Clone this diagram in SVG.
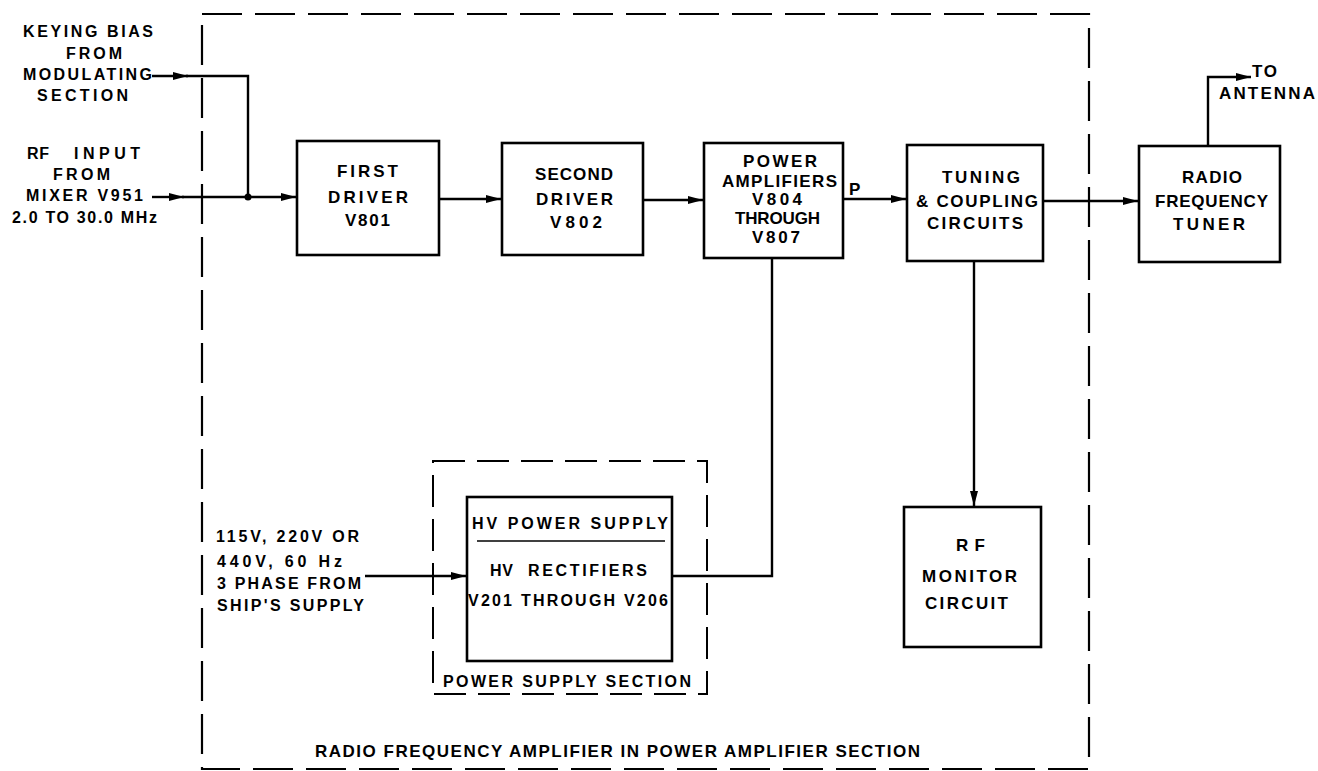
<svg xmlns="http://www.w3.org/2000/svg" width="1318" height="771" viewBox="0 0 1318 771">
<style>
text{font-family:"Liberation Sans",Arial,sans-serif;font-weight:bold;font-size:17px;fill:#000}
.s{font-size:16px}
.box{fill:none;stroke:#000;stroke-width:2.6}
.ln{fill:none;stroke:#000;stroke-width:2.4}
.dash{fill:none;stroke:#000;stroke-width:2.2;stroke-dasharray:40 13}
.dash2{fill:none;stroke:#000;stroke-width:2;stroke-dasharray:32 12}
</style>
<defs>
<marker id="ah" viewBox="0 0 15 8" refX="15" refY="4" markerWidth="15" markerHeight="8" markerUnits="userSpaceOnUse" orient="auto">
<path d="M0,0 L15,4 L0,8 z" fill="#000"/>
</marker>
</defs>
<rect width="1318" height="771" fill="#fff"/>

<g id="outer-section">
<rect class="dash" x="202" y="14" width="887" height="755"/>
<text x="315" y="757" textLength="605" lengthAdjust="spacing">RADIO FREQUENCY AMPLIFIER  IN POWER AMPLIFIER SECTION</text>
</g>

<g id="keying-input">
<text class="s" x="23" y="37" textLength="130" lengthAdjust="spacing">KEYING BIAS</text>
<text class="s" x="66" y="59" textLength="56" lengthAdjust="spacing">FROM</text>
<text class="s" x="23" y="80" textLength="129" lengthAdjust="spacing">MODULATING</text>
<text class="s" x="37" y="101" textLength="91" lengthAdjust="spacing">SECTION</text>
</g>

<g id="rf-input">
<text class="s" y="159"><tspan x="27" textLength="22" lengthAdjust="spacing">RF</tspan><tspan x="74" textLength="66" lengthAdjust="spacing">INPUT</tspan></text>
<text class="s" x="53" y="180" textLength="57" lengthAdjust="spacing">FROM</text>
<text class="s" x="26" y="201" textLength="117" lengthAdjust="spacing">MIXER V951</text>
<text class="s" x="12" y="223" textLength="145" lengthAdjust="spacing">2.0 TO 30.0 MHz</text>
</g>

<g id="first-driver">
<rect class="box" x="297" y="141" width="142" height="114"/>
<text x="337" y="177" textLength="61" lengthAdjust="spacing">FIRST</text>
<text x="328" y="203" textLength="80" lengthAdjust="spacing">DRIVER</text>
<text x="345" y="226" textLength="45" lengthAdjust="spacing">V801</text>
</g>

<g id="second-driver">
<rect class="box" x="502" y="143" width="141" height="112"/>
<text x="535" y="180" textLength="78" lengthAdjust="spacing">SECOND</text>
<text x="536" y="205" textLength="77" lengthAdjust="spacing">DRIVER</text>
<text x="550" y="228" textLength="52" lengthAdjust="spacing">V802</text>
</g>

<g id="power-amplifiers">
<rect class="box" x="704" y="143" width="139" height="115"/>
<text x="743" y="167" textLength="74" lengthAdjust="spacing">POWER</text>
<text x="722" y="187" textLength="115" lengthAdjust="spacing">AMPLIFIERS</text>
<text x="752" y="205" textLength="50" lengthAdjust="spacing">V804</text>
<text x="735" y="224" textLength="85" lengthAdjust="spacing">THROUGH</text>
<text x="752" y="243" textLength="48" lengthAdjust="spacing">V807</text>
<text x="849" y="195">P</text>
</g>

<g id="tuning-coupling">
<rect class="box" x="907" y="145" width="136" height="116"/>
<text x="942" y="183" textLength="78" lengthAdjust="spacing">TUNING</text>
<text x="916" y="207" textLength="122" lengthAdjust="spacing">&amp; COUPLING</text>
<text x="927" y="229" textLength="96" lengthAdjust="spacing">CIRCUITS</text>
</g>

<g id="rf-tuner">
<rect class="box" x="1139" y="146" width="141" height="116"/>
<text x="1182" y="183" textLength="60" lengthAdjust="spacing">RADIO</text>
<text x="1155" y="207" textLength="113" lengthAdjust="spacing">FREQUENCY</text>
<text x="1173" y="230" textLength="72" lengthAdjust="spacing">TUNER</text>
</g>

<g id="antenna">
<text x="1252" y="77" textLength="25" lengthAdjust="spacing">TO</text>
<text x="1219" y="99" textLength="96" lengthAdjust="spacing">ANTENNA</text>
</g>

<g id="rf-monitor">
<rect class="box" x="904" y="507" width="137" height="140"/>
<text x="956" y="551" textLength="29" lengthAdjust="spacing">RF</text>
<text x="922" y="582" textLength="95" lengthAdjust="spacing">MONITOR</text>
<text x="925" y="609" textLength="83" lengthAdjust="spacing">CIRCUIT</text>
</g>

<g id="ship-supply">
<text class="s" x="216" y="542" textLength="143" lengthAdjust="spacing">115V, 220V OR</text>
<text class="s" x="217" y="567" textLength="125" lengthAdjust="spacing">440V, 60 Hz</text>
<text class="s" x="217" y="589" textLength="144" lengthAdjust="spacing">3 PHASE FROM</text>
<text class="s" x="217" y="611" textLength="147" lengthAdjust="spacing">SHIP'S SUPPLY</text>
</g>

<g id="power-supply-section">
<rect class="dash2" x="433" y="461" width="274" height="233"/>
<text class="s" x="443" y="687" textLength="248" lengthAdjust="spacing">POWER SUPPLY SECTION</text>
</g>

<g id="hv-power-supply">
<rect class="box" x="467" y="497" width="205" height="164"/>
<text class="s" x="472" y="529" textLength="196" lengthAdjust="spacing">HV POWER SUPPLY</text>
<line x1="477" y1="541" x2="665" y2="541" stroke="#000" stroke-width="1.6"/>
<text class="s" y="576"><tspan x="490" textLength="23" lengthAdjust="spacing">HV</tspan><tspan x="528" textLength="119" lengthAdjust="spacing">RECTIFIERS</tspan></text>
<text class="s" x="468" y="606" textLength="200" lengthAdjust="spacing">V201 THROUGH V206</text>
</g>

<g id="connectors">
<path class="ln" d="M152,76 H188" marker-end="url(#ah)"/>
<path class="ln" d="M186,76 H248 V197"/>
<path class="ln" d="M152,197 H184" marker-end="url(#ah)"/>
<path class="ln" d="M182,197 H296" marker-end="url(#ah)"/>
<circle cx="248" cy="197" r="3.5" fill="#000"/>
<path class="ln" d="M439,199 H501" marker-end="url(#ah)"/>
<path class="ln" d="M643,200 H703" marker-end="url(#ah)"/>
<path class="ln" d="M843,199 H906" marker-end="url(#ah)"/>
<path class="ln" d="M1043,201 H1138" marker-end="url(#ah)"/>
<path class="ln" d="M1208,146 V77 H1251" marker-end="url(#ah)"/>
<path class="ln" d="M974,261 V506" marker-end="url(#ah)"/>
<path class="ln" d="M365,576 H466" marker-end="url(#ah)"/>
<path class="ln" d="M672,576 H772 V258"/>
</g>
</svg>
